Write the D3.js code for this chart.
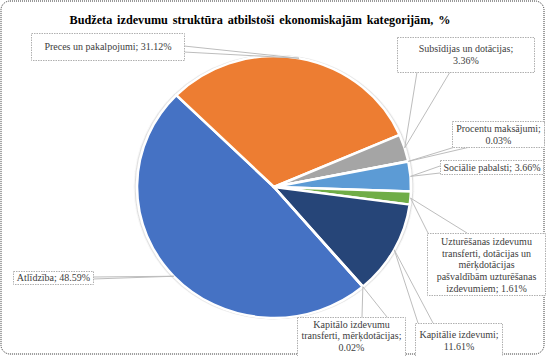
<!DOCTYPE html>
<html><head><meta charset="utf-8">
<script src="https://cdn.jsdelivr.net/npm/d3@7"></script>
<style>
html,body{margin:0;padding:0;background:#fff;}
svg{display:block;}
</style></head>
<body>
<svg id="chart" width="546" height="356"></svg>
<script>
const title = "Budžeta izdevumu struktūra atbilstoši ekonomiskajām kategorijām, %";
const categories = [
  "Atlīdzība",
  "Preces un pakalpojumi",
  "Subsīdijas un dotācijas",
  "Procentu maksājumi",
  "Sociālie pabalsti",
  "Uzturēšanas izdevumu transferti, dotācijas un mērķdotācijas pašvaldībām uzturēšanas izdevumiem",
  "Kapitālie izdevumi",
  "Kapitālo izdevumu transferti, mērķdotācijas"
];
const values = [48.59, 31.12, 3.36, 0.03, 3.66, 1.61, 11.61, 0.02];
const valueLabels = ["48.59%", "31.12%", "3.36%", "0.03%", "3.66%", "1.61%", "11.61%", "0.02%"];
const colors = ["#4472C4", "#ED7D31", "#A5A5A5", "#FFC000", "#5B9BD5", "#70AD47", "#264478", "#9E480E"];
// label text lines
const labelLines = [
  ["Atlīdzība; 48.59%"],
  ["Preces un pakalpojumi; 31.12%"],
  ["Subsīdijas un dotācijas;", "3.36%"],
  ["Procentu maksājumi;", "0.03%"],
  ["Sociālie pabalsti; 3.66%"],
  ["Uzturēšanas izdevumu", "transferti, dotācijas un", "mērķdotācijas", "pašvaldībām uzturēšanas", "izdevumiem; 1.61%"],
  ["Kapitālie izdevumi;", "11.61%"],
  ["Kapitālo izdevumu", "transferti, mērķdotācijas;", "0.02%"]
];

// layout (label boxes: x, y, w, h, first baseline, line step, leader anchors on box)
const boxes = [
  {x:13, y:271, w:80, h:13, b:281, s:11.7, a:[[93,277],[93,279]]},
  {x:31, y:33, w:153, h:27, b:50, s:11.7, a:[[184,46],[184,52]]},
  {x:397, y:37, w:137, h:35, b:52, s:12, a:[[417,72],[450,72]]},
  {x:452, y:121, w:92, h:26, b:132, s:11.5, a:[[455,147],[470,147]]},
  {x:440, y:160, w:103, h:14, b:170.5, s:11.7, a:[[440,166],[440,173]]},
  {x:427, y:233, w:118, h:62, b:245, s:11.7, a:[[428,233],[467,233]]},
  {x:415, y:323, w:87, h:33, b:338, s:11.5, a:[[418,323],[433,323]]},
  {x:297, y:317, w:108, h:39, b:327.5, s:11.8, a:[[362,317],[387,317]]}
];

const FONT = "'Times New Roman', 'Liberation Serif', 'DejaVu Serif', serif";
const svg = d3.select("#chart");
const W = 546, H = 356;
const cx = 274, cy = 187, R = 137, ky = 131/137;
const a0 = 139.6 * Math.PI / 180;

// outer border
svg.append("rect").attr("x",1).attr("y",1).attr("width",W-3).attr("height",H-3)
  .attr("rx",9).attr("fill","#fff").attr("stroke","#333").attr("stroke-width",1)
  .attr("stroke-dasharray","1,1");

// title
svg.append("text").attr("x",260).attr("y",23.5).attr("text-anchor","middle")
  .style("font-family",FONT)
  .attr("font-size",12.2).attr("font-weight","bold").attr("fill","#000")
  .attr("word-spacing",1.8)
  .text(title);

const defs = svg.append("defs");
const f = defs.append("filter").attr("id","sh").attr("x","-10%").attr("y","-10%").attr("width","120%").attr("height","120%");
f.append("feDropShadow").attr("dx",0).attr("dy",0).attr("stdDeviation",0.8).attr("flood-color","#555").attr("flood-opacity",0.6);

const pie = d3.pie().sort(null).value(d => d).startAngle(a0).endAngle(a0 + 2*Math.PI);
const arcs = pie(values);
const arc = d3.arc().innerRadius(0).outerRadius(R);

const g = svg.append("g").attr("transform",`translate(${cx},${cy}) scale(1,${ky})`).attr("filter","url(#sh)");
g.selectAll("path").data(arcs).join("path")
  .attr("d", arc)
  .attr("fill",(d,i)=>colors[i])
  .attr("stroke","#fff").attr("stroke-width",2.6).attr("stroke-linejoin","round");

// leader lines
const lg = svg.append("g");
arcs.forEach((d,i)=>{
  const m = (d.startAngle + d.endAngle)/2;
  const tx = cx + R*Math.sin(m), ty = cy - R*ky*Math.cos(m);
  boxes[i].a.forEach(p=>{
    lg.append("line").attr("x1",p[0]).attr("y1",p[1]).attr("x2",tx).attr("y2",ty)
      .attr("stroke","#bdbdbd").attr("stroke-width",1);
  });
});

// label boxes
const lb = svg.append("g");
boxes.forEach((b,i)=>{
  lb.append("rect").attr("x",b.x+0.5).attr("y",b.y+0.5).attr("width",b.w).attr("height",b.h)
    .attr("fill","#fff").attr("stroke","#b0b0b0").attr("stroke-width",1).attr("stroke-dasharray","1.5,1");
  const t = lb.append("text").attr("text-anchor","middle").attr("font-size",10).attr("fill","#404040")
    .style("font-family",FONT);
  labelLines[i].forEach((ln,j)=>{
    t.append("tspan").attr("x",b.x + b.w/2 + 0.5).attr("y",b.b + j*b.s).text(ln);
  });
});
</script>
</body></html>
